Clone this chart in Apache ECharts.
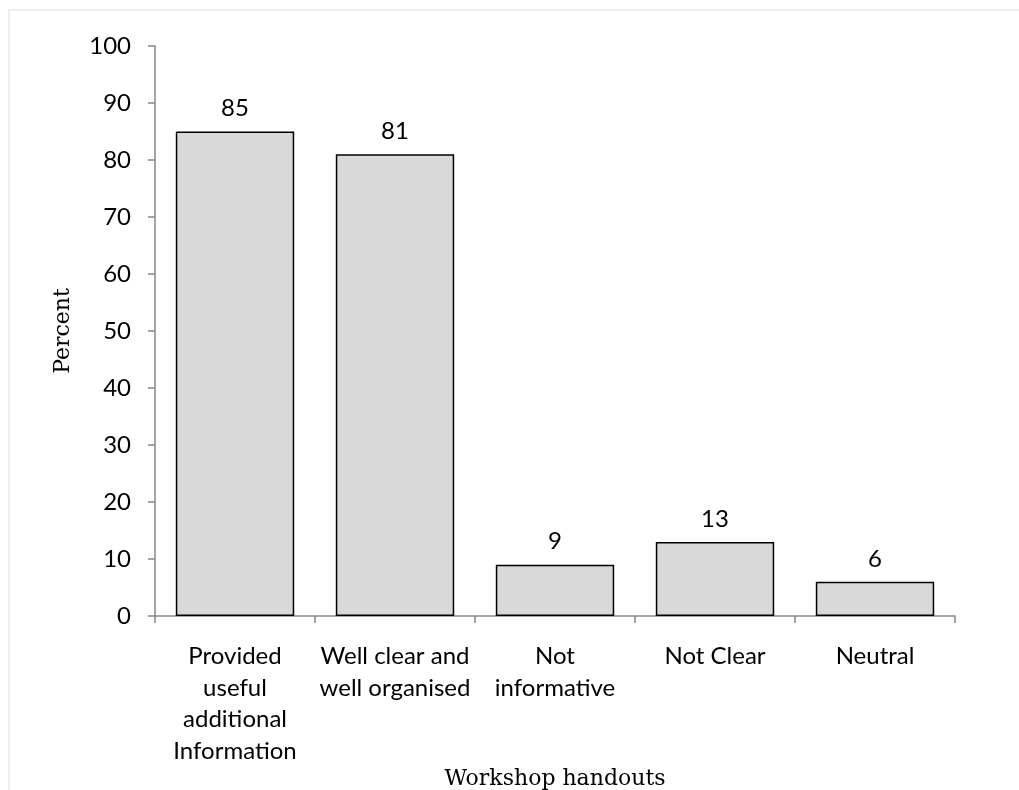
<!DOCTYPE html>
<html>
<head>
<meta charset="utf-8">
<script src="https://cdn.jsdelivr.net/npm/echarts@6/dist/echarts.min.js"></script>
<style>
html,body{margin:0;padding:0;background:#fff;}
#frame{position:absolute;left:8px;top:9px;width:1030px;height:800px;border-top:2px solid #efefef;border-left:2px solid #efefef;box-sizing:border-box;}
#chart{position:absolute;left:0;top:0;width:1019px;height:790px;}
</style>
</head>
<body>
<div id="frame"></div>
<div id="chart"></div>
<script>
const categories = [
  "Provided\nuseful\nadditional\nInformation",
  "Well clear and\nwell organised",
  "Not\ninformative",
  "Not Clear",
  "Neutral"
];
const values = [85, 81, 9, 13, 6];
const yTicks = [0, 10, 20, 30, 40, 50, 60, 70, 80, 90, 100];

const chart = echarts.init(document.getElementById('chart'), null, {renderer: 'canvas'});
const axisColor = '#868686';
const sans = 'Lato';
const serif = 'DejaVu Serif';
chart.setOption({
  backgroundColor: 'transparent',
  animation: false,
  grid: {left: 155, right: 64, top: 46, bottom: 174, containLabel: false, outerBoundsMode: 'none'},
  xAxis: {
    type: 'category',
    data: categories,
    name: 'Workshop handouts',
    nameLocation: 'middle',
    nameGap: 152,
    nameMoveOverlap: false,
    nameTextStyle: {fontFamily: serif, fontSize: 22, color: '#000', verticalAlign: 'top'},
    axisLine: {lineStyle: {color: axisColor, width: 1.5}},
    axisTick: {show: true, alignWithLabel: false, length: 7, lineStyle: {color: axisColor, width: 1.5}},
    axisLabel: {fontFamily: sans, fontSize: 24, color: '#000', lineHeight: 31.5, margin: 25, interval: 0},
    splitLine: {show: false}
  },
  yAxis: {
    type: 'value',
    min: yTicks[0],
    max: yTicks[yTicks.length - 1],
    interval: yTicks[1] - yTicks[0],
    name: 'Percent',
    nameLocation: 'middle',
    nameRotate: 90,
    nameGap: 81,
    nameMoveOverlap: false,
    nameTextStyle: {fontFamily: serif, fontSize: 22, color: '#000'},
    axisLine: {show: true, lineStyle: {color: axisColor, width: 1.5}},
    axisTick: {show: true, length: 7, lineStyle: {color: axisColor, width: 1.5}},
    axisLabel: {fontFamily: sans, fontSize: 24, color: '#000', margin: 24},
    splitLine: {show: false}
  },
  series: [{
    type: 'bar',
    data: values,
    barCategoryGap: '26%',
    itemStyle: {color: '#d9d9d9', borderColor: '#000', borderWidth: 1.5},
    label: {show: true, position: 'top', distance: 11, fontFamily: sans, fontSize: 24, color: '#000'}
  }]
});
</script>
</body>
</html>
